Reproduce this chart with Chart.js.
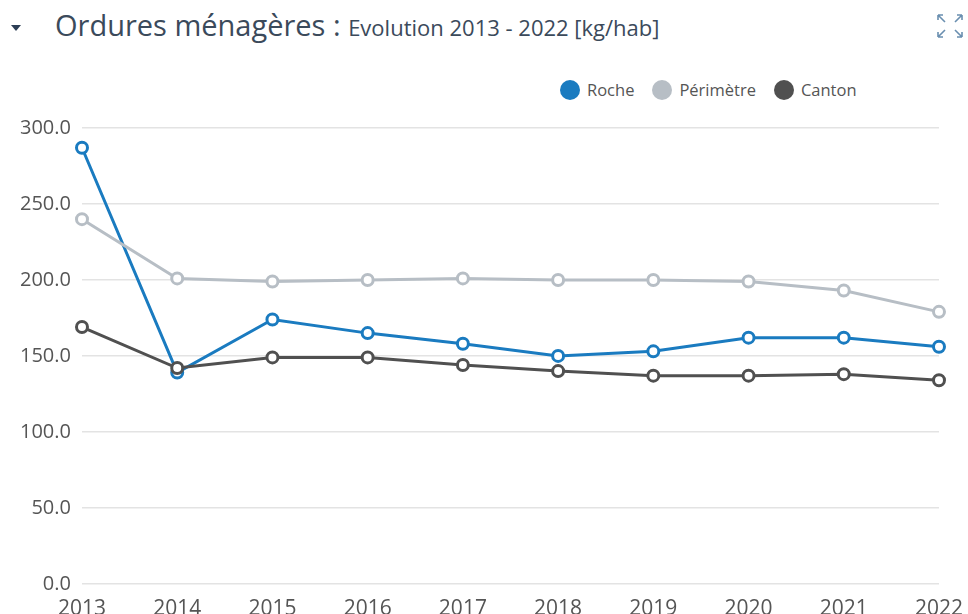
<!DOCTYPE html>
<html>
<head>
<meta charset="utf-8">
<script src="https://cdn.jsdelivr.net/npm/chart.js@4.4.1/dist/chart.umd.min.js"></script>
<style>
  html, body { margin: 0; padding: 0; background: #fff; overflow: hidden; }
  body { width: 968px; height: 614px; position: relative; font-family: "Open Sans", sans-serif; }
  #head { position: absolute; left: 0; top: 5px; height: 44px; color: #3b4a5b; white-space: nowrap; }
  #caret { position: absolute; left: 11px; top: 20px; width: 0; height: 0;
    border-left: 5px solid transparent; border-right: 5px solid transparent; border-top: 6px solid #2c3e55; }
  #title { position: absolute; left: 55px; top: 0; font-size: 29px; }
  #title small { font-size: 22px; }
  #expand { position: absolute; left: 935px; top: 12px; }
  #legend { position: absolute; left: 560px; top: 79px; font-size: 16.5px; color: #555; white-space: nowrap; line-height: 22px; }
  #legend span.item { display: inline-block; margin-right: 18px; }
  #legend span.dot { display: inline-block; width: 20px; height: 20px; border-radius: 50%; vertical-align: -4px; margin-right: 7px; }
  #wrap { position: absolute; left: 0; top: 105px; width: 968px; height: 522px; }
</style>
</head>
<body>
<div id="head">
  <div id="caret"></div>
  <div id="title">Ordures ménagères : <small>Evolution 2013 - 2022 [kg/hab]</small></div>
</div>
<svg id="expand" width="30" height="28" viewBox="0 0 30 28">
  <g stroke="#6a8fb0" stroke-width="1.6" fill="none">
    <path d="M3 3 L10 10 M3 3 h5 M3 3 v5"/>
    <path d="M27 3 L20 10 M27 3 h-5 M27 3 v5"/>
    <path d="M3 25 L10 18 M3 25 h5 M3 25 v-5"/>
    <path d="M27 25 L20 18 M27 25 h-5 M27 25 v-5"/>
  </g>
</svg>
<div id="legend"></div>
<div id="wrap"><canvas id="chart"></canvas></div>
<script>
var years = ['2013', '2014', '2015', '2016', '2017', '2018', '2019', '2020', '2021', '2022'];
var roche = [287, 139, 174, 165, 158, 150, 153, 162, 162, 156];
var perimetre = [240, 201, 199, 200, 201, 200, 200, 199, 193, 179];
var canton = [169, 142, 149, 149, 144, 140, 137, 137, 138, 134];
var yTicks = [0, 50, 100, 150, 200, 250, 300];

function serie(label, values, color) {
  return {
    label: label,
    data: values,
    borderColor: color,
    backgroundColor: color,
    borderWidth: 3,
    pointRadius: 5.5,
    pointBorderWidth: 3,
    pointBackgroundColor: '#fff',
    pointBorderColor: color,
    tension: 0
  };
}

var ctx = document.getElementById('chart').getContext('2d');
var chart = new Chart(ctx, {
  type: 'line',
  data: {
    labels: years,
    datasets: [
      serie('Canton', canton, '#505050'),
      serie('Périmètre', perimetre, '#b7bec5'),
      serie('Roche', roche, '#1a7bc0')
    ]
  },
  options: {
    responsive: true,
    maintainAspectRatio: false,
    animation: false,
    layout: { padding: { left: 9, right: 0, top: 2, bottom: 0 } },
    plugins: {
      legend: { display: false },
      tooltip: { enabled: false }
    },
    scales: {
      x: {
        offset: false,
        grid: { display: false },
        border: { display: false },
        ticks: { color: '#555', font: { family: 'Open Sans', size: 21 }, padding: 5, maxRotation: 0 }
      },
      y: {
        min: 0,
        max: 300,
        afterBuildTicks: function (axis) {
          axis.ticks = yTicks.map(function (v) { return { value: v }; });
        },
        grid: { color: '#e3e3e3', lineWidth: 1.5, drawTicks: false },
        border: { display: false },
        ticks: {
          color: '#555',
          padding: 11,
          font: { family: 'Open Sans', size: 20 },
          callback: function (v) { return Number(v).toFixed(1); }
        }
      }
    }
  }
});

// legend in the order Roche, Périmètre, Canton
var legend = document.getElementById('legend');
['Roche', 'Périmètre', 'Canton'].forEach(function (name) {
  var ds = chart.data.datasets.find(function (d) { return d.label === name; });
  var item = document.createElement('span');
  item.className = 'item';
  item.innerHTML = '<span class="dot" style="background:' + ds.borderColor + '"></span>' + name;
  legend.appendChild(item);
});
</script>
</body>
</html>
